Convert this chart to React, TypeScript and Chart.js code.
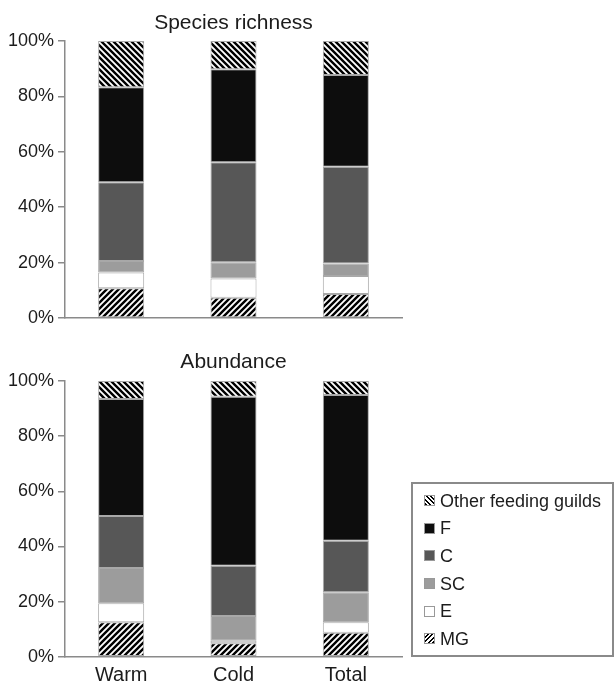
import React, { useEffect, useRef } from "react";
import { Chart, registerables } from "chart.js";

Chart.register(...registerables);

const categories = ["Warm", "Cold", "Total"];
const guildNames = ["MG", "E", "SC", "C", "F", "Other feeding guilds"];
const yTickLabels = ["0%", "20%", "40%", "60%", "80%", "100%"];

// Species richness (% of species)
const richnessMG = [10.7, 7.3, 8.7];
const richnessE = [5.7, 7.0, 6.5];
const richnessSC = [4.2, 5.8, 4.5];
const richnessC = [28.4, 36.1, 34.9];
const richnessF = [34.3, 33.6, 33.1];
const richnessOther = [16.7, 10.2, 12.3];

// Abundance (% of individuals)
const abundanceMG = [12.5, 4.9, 8.7];
const abundanceE = [6.9, 0.9, 3.8];
const abundanceSC = [12.8, 9.0, 10.9];
const abundanceC = [18.8, 18.2, 18.7];
const abundanceF = [42.5, 61.3, 52.8];
const abundanceOther = [6.5, 5.7, 5.1];

const FONT = "'Liberation Sans', Arial, Helvetica, sans-serif";
const TEXT = "#1c1c1c";
const AXIS = "#8a8a8a";
const COL_F = "#0d0d0d";
const COL_C = "#575757";
const COL_SC = "#9c9c9c";
const COL_E = "#ffffff";

function makeHatch(forward: boolean): CanvasPattern | string {
  const size = 6;
  const c = document.createElement("canvas");
  c.width = size;
  c.height = size;
  const ctx = c.getContext("2d");
  if (!ctx) return "#444";
  ctx.fillStyle = "#ffffff";
  ctx.fillRect(0, 0, size, size);
  ctx.strokeStyle = "#000000";
  ctx.lineWidth = 2.4;
  ctx.beginPath();
  if (forward) {
    ctx.moveTo(0, size); ctx.lineTo(size, 0);
    ctx.moveTo(-size / 2, size / 2); ctx.lineTo(size / 2, -size / 2);
    ctx.moveTo(size / 2, size * 1.5); ctx.lineTo(size * 1.5, size / 2);
  } else {
    ctx.moveTo(0, 0); ctx.lineTo(size, size);
    ctx.moveTo(-size / 2, size / 2); ctx.lineTo(size / 2, size * 1.5);
    ctx.moveTo(size / 2, -size / 2); ctx.lineTo(size * 1.5, size / 2);
  }
  ctx.stroke();
  const p = ctx.createPattern(c, "repeat");
  return p || "#444";
}

function buildConfig(
  title: string,
  showX: boolean,
  series: number[][],
  titlePad: { top: number; bottom: number },
  xHeight: number
): any {
  const mgPat = makeHatch(true);
  const otherPat = makeHatch(false);
  const fills = [mgPat, COL_E, COL_SC, COL_C, COL_F, otherPat];
  const datasets = series.map((data, i) => ({
    label: guildNames[i],
    data,
    backgroundColor: fills[i],
    borderColor: "#a8a8a8",
    borderWidth: 1,
    borderSkipped: false,
    barPercentage: 0.41,
    categoryPercentage: 1,
  }));
  return {
    type: "bar",
    data: { labels: categories, datasets },
    options: {
      animation: false,
      responsive: true,
      maintainAspectRatio: false,
      layout: { padding: { left: 0, right: 213, top: 0, bottom: 0 } },
      plugins: {
        legend: { display: false },
        tooltip: { enabled: false },
        title: {
          display: true,
          text: title,
          fullSize: false,
          color: TEXT,
          font: { family: FONT, size: 21, weight: "normal", lineHeight: 1.2 },
          padding: titlePad,
        },
      },
      scales: {
        x: {
          stacked: true,
          offset: true,
          afterFit: (scale: any) => {
            scale.height = xHeight;
          },
          grid: { display: false, drawTicks: false },
          border: { display: true, color: AXIS, width: 1.5 },
          ticks: {
            display: showX,
            color: TEXT,
            padding: 9,
            font: { family: FONT, size: 20, lineHeight: 1.0 },
          },
        },
        y: {
          stacked: true,
          min: 0,
          max: 100,
          afterFit: (scale: any) => {
            scale.width = 65;
            scale.paddingBottom = 0;
            scale.paddingTop = 0;
          },
          grid: {
            display: true,
            drawOnChartArea: false,
            drawTicks: true,
            tickLength: 7,
            color: AXIS,
            lineWidth: 1.5,
          },
          border: { display: true, color: AXIS, width: 1.5 },
          ticks: {
            stepSize: 20,
            padding: 4,
            color: TEXT,
            font: { family: FONT, size: 18 },
            callback: (v: any) => {
              const idx = Math.round(Number(v) / 20);
              return yTickLabels[idx] ?? "";
            },
          },
        },
      },
    },
  };
}

function StackChart(props: {
  title: string;
  showX: boolean;
  series: number[][];
  titlePad: { top: number; bottom: number };
  xHeight: number;
}) {
  const ref = useRef<HTMLCanvasElement | null>(null);
  useEffect(() => {
    if (!ref.current) return;
    const chart = new Chart(
      ref.current,
      buildConfig(props.title, props.showX, props.series, props.titlePad, props.xHeight)
    );
    return () => chart.destroy();
  }, []);
  return <canvas ref={ref} />;
}

const legendSwatches: Record<string, string> = {
  "Other feeding guilds": "repeating-linear-gradient(45deg, #000 0 1.6px, #fff 1.6px 3.2px)",
  F: COL_F,
  C: COL_C,
  SC: COL_SC,
  E: COL_E,
  MG: "repeating-linear-gradient(-45deg, #000 0 1.6px, #fff 1.6px 3.2px)",
};

function Legend() {
  const order = [...guildNames].reverse();
  return (
    <div
      style={{
        position: "absolute",
        left: 411,
        top: 482,
        width: 203,
        height: 175,
        boxSizing: "border-box",
        border: `2px solid ${AXIS}`,
        paddingTop: 3,
        fontFamily: FONT,
        fontSize: 18,
        color: TEXT,
      }}
    >
      {order.map((name) => (
        <div
          key={name}
          style={{ height: 27.6, display: "flex", alignItems: "center", paddingLeft: 11 }}
        >
          <span
            style={{
              display: "inline-block",
              width: 11,
              height: 11,
              boxSizing: "border-box",
              border: "1px solid #999",
              background: legendSwatches[name],
              marginRight: 5,
            }}
          />
          <span style={{ whiteSpace: "nowrap", lineHeight: "20px" }}>{name}</span>
        </div>
      ))}
    </div>
  );
}

export default function App() {
  const richness = [richnessMG, richnessE, richnessSC, richnessC, richnessF, richnessOther];
  const abundance = [abundanceMG, abundanceE, abundanceSC, abundanceC, abundanceF, abundanceOther];
  return (
    <div
      style={{
        position: "absolute",
        left: 0,
        top: 0,
        width: 615,
        height: 686,
        background: "#ffffff",
        overflow: "hidden",
      }}
    >
      <div style={{ position: "absolute", left: 0, top: 0, width: 615, height: 330 }}>
        <StackChart
          title="Species richness"
          showX={false}
          series={richness}
          titlePad={{ top: 11, bottom: 4.8 }}
          xHeight={12}
        />
      </div>
      <div style={{ position: "absolute", left: 0, top: 330, width: 615, height: 356 }}>
        <StackChart
          title="Abundance"
          showX={true}
          series={abundance}
          titlePad={{ top: 20, bottom: 5.8 }}
          xHeight={29.3}
        />
      </div>
      <Legend />
    </div>
  );
}
